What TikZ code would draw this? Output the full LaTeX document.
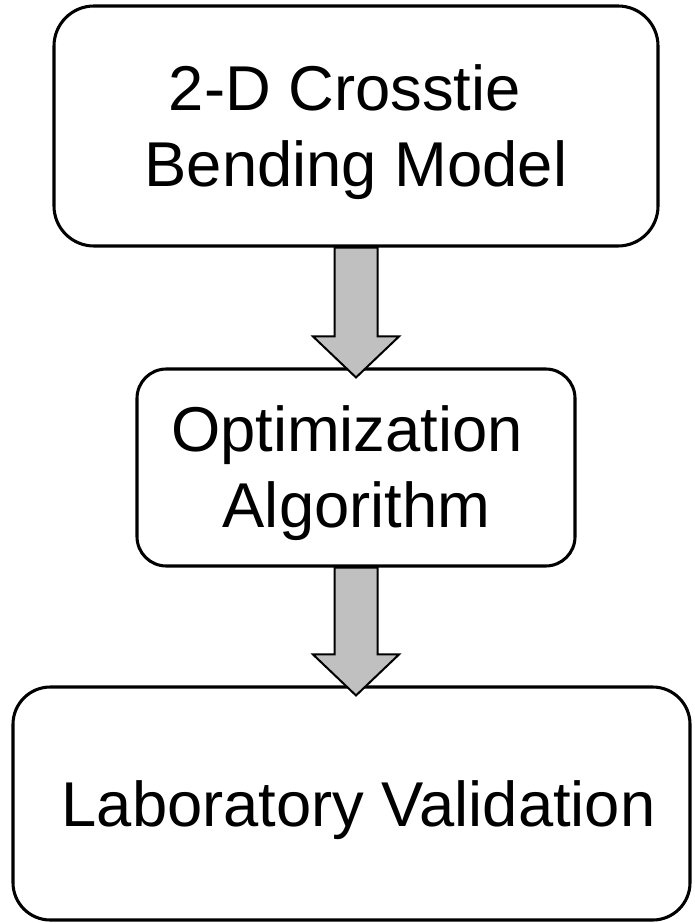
\documentclass[tikz,border=0pt]{standalone}
\usepackage{fontspec}
\setmainfont{Liberation Sans}
\usetikzlibrary{calc}
\definecolor{arrowgray}{HTML}{C0C0C0}
\tikzset{
  stage/.style={draw, line width=2.3pt, rounded corners=#1, inner sep=0pt},
  stagetext/.style={align=center, inner sep=0pt, font=\fontsize{47.5}{57}\selectfont},
  fatarrow/.style={draw, fill=arrowgray, line width=1.5pt, line join=miter}
}
\begin{document}
\begin{tikzpicture}[x=0.75pt,y=-0.75pt]
	\useasboundingbox (0,0) rectangle (694,923);
	% boxes
	\node[stage=30pt, minimum width=453pt, minimum height=180pt] (model) at (356,126) {};
	\node[stage=22pt, minimum width=328.5pt, minimum height=147.75pt] (optim) at (356,467.5) {};
	\node[stage=28pt, minimum width=507.75pt, minimum height=174.75pt] (valid) at (351.5,803.5) {};
	% texts
	\node[stagetext] (modeltxt) at ($(model.center)+(0,6)$) {2-D Crosstie\hspace*{0.35em}\\Bending Model};
	\node[stagetext] (optimtxt) at ($(optim.center)+(-9,6)$) {Optimization\\\hspace*{0.3em}Algorithm};
	\node[stagetext] (validtxt) at ($(valid.center)+(7,7)$) {Laboratory Validation};
	% fat arrows
	\foreach \a/\b in {model/optim, optim/valid}
		\draw[fatarrow] ($(\a.south)+(-21.5,0)$) -- ($(\a.south |- \b.north)+(-21.5,-31)$)
			-- ($(\a.south |- \b.north)+(-43,-31)$) -- ($(\a.south |- \b.north)+(0,10)$)
			-- ($(\a.south |- \b.north)+(43,-31)$) -- ($(\a.south |- \b.north)+(21.5,-31)$)
			-- ($(\a.south)+(21.5,0)$) -- cycle;
\end{tikzpicture}
\end{document}
